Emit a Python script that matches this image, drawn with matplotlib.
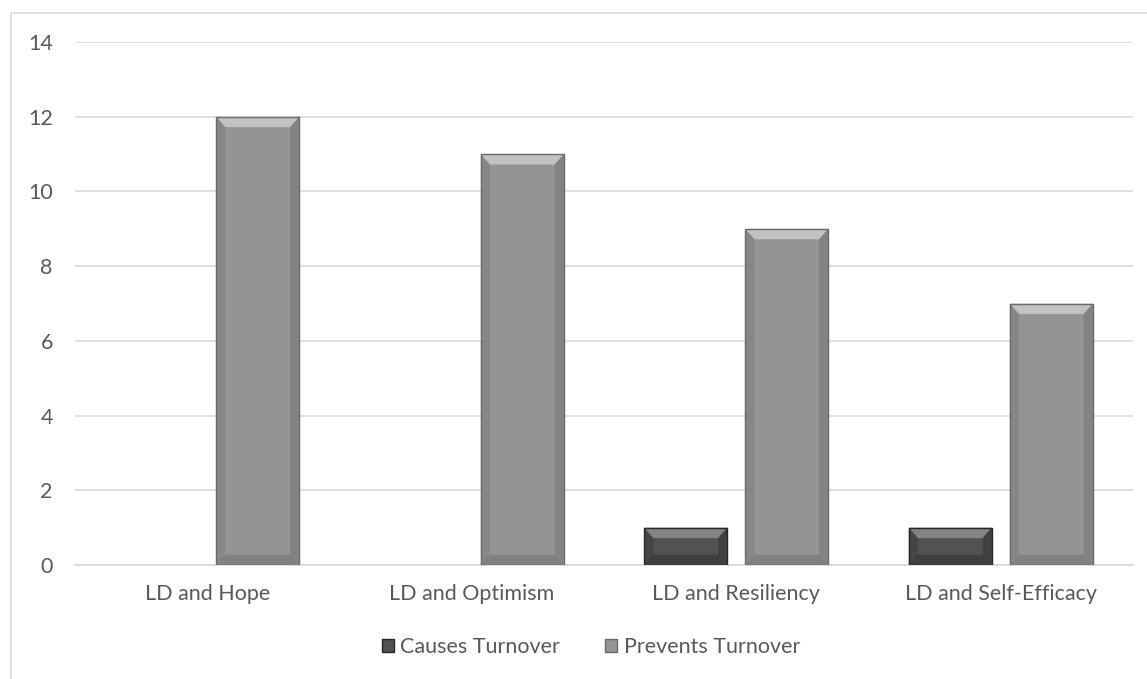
import matplotlib
matplotlib.use("Agg")
import matplotlib.pyplot as plt
from matplotlib.patches import Rectangle, Polygon
import numpy as np

categories = ["LD and Hope", "LD and Optimism", "LD and Resiliency", "LD and Self-Efficacy"]
causes = [0, 0, 1, 1]
prevents = [12, 11, 9, 7]
series_names = ["Causes Turnover", "Prevents Turnover"]
yticks = [0, 2, 4, 6, 8, 10, 12, 14]

plt.rcParams['font.family'] = ['Lato', 'DejaVu Sans']

W, H = 1147, 679
fig = plt.figure(figsize=(W / 100, H / 100), dpi=100)
ax = fig.add_axes([75 / W, 1 - 565 / H, (1133 - 75) / W, (565 - 42) / H])

# outer chart border
fig.patches.append(Rectangle((11 / W, -0.1), 1.2, 1 - 13 / H + 0.1, transform=fig.transFigure,
                             fill=False, edgecolor="#d9d9d9", linewidth=1.2, zorder=0))

x = np.arange(len(categories))
bw = 0.314
off = 0.382

face = {"c": "#525252", "p": "#949494"}
edge = {"c": "#262626", "p": "#6a6a6a"}
hi = {"c": "#8a8a8a", "p": "#c8c8c8"}
lo = {"c": "#3a3a3a", "p": "#7c7c7c"}

def draw_bars(xs, vals, key):
    bars = ax.bar(xs, vals, bw, color=face[key], edgecolor="none", linewidth=0, zorder=3)
    for b in bars:
        h = b.get_height()
        if h <= 0:
            b.set_visible(False)
            continue
        x0, w = b.get_x(), b.get_width()
        bx = w * 0.11
        by = min(0.28, h * 0.28)
        ax.add_patch(Polygon([(x0, h), (x0 + w, h), (x0 + w - bx, h - by), (x0 + bx, h - by)],
                             closed=True, facecolor=hi[key], edgecolor="none", zorder=4, alpha=0.9))
        ax.add_patch(Polygon([(x0, 0), (x0 + w, 0), (x0 + w - bx, by), (x0 + bx, by)],
                             closed=True, facecolor=lo[key], edgecolor="none", zorder=4, alpha=0.8))
        ax.add_patch(Polygon([(x0, 0), (x0 + bx, by), (x0 + bx, h - by), (x0, h)],
                             closed=True, facecolor=lo[key], edgecolor="none", zorder=4, alpha=0.5))
        ax.add_patch(Polygon([(x0 + w, 0), (x0 + w - bx, by), (x0 + w - bx, h - by), (x0 + w, h)],
                             closed=True, facecolor=lo[key], edgecolor="none", zorder=4, alpha=0.7))
        ax.add_patch(Rectangle((x0, 0), w, h, fill=False, edgecolor=edge[key], linewidth=1.0, zorder=5))
    return bars

draw_bars(x - off / 2, causes, "c")
draw_bars(x + off / 2, prevents, "p")

ax.set_xlim(-0.5, len(categories) - 0.5)
ax.set_ylim(0, 14)
ax.set_yticks(yticks)
ax.set_xticks(x)
ax.set_xticklabels(categories)
ax.yaxis.grid(True, color="#d9d9d9", linewidth=1.2, zorder=0)
ax.set_axisbelow(True)
for s in ["top", "right", "left"]:
    ax.spines[s].set_visible(False)
ax.spines["bottom"].set_color("#d9d9d9")
ax.spines["bottom"].set_linewidth(1.2)
ax.tick_params(axis="both", length=0, labelsize=15.5, colors="#595959")
ax.tick_params(axis="y", pad=16)
ax.tick_params(axis="x", pad=14)

handles = [Rectangle((0, 0), 1, 1, facecolor=face["c"], edgecolor=edge["c"]),
           Rectangle((0, 0), 1, 1, facecolor=face["p"], edgecolor=edge["p"])]
leg = fig.legend(handles, series_names, loc="center", bbox_to_anchor=(591 / W, 1 - 647 / H),
                 ncol=2, frameon=False, fontsize=15.5, handlelength=0.55, handleheight=0.55,
                 handletextpad=0.3, columnspacing=2.1)
for t in leg.get_texts():
    t.set_color("#595959")

fig.savefig("out.png", dpi=100)
